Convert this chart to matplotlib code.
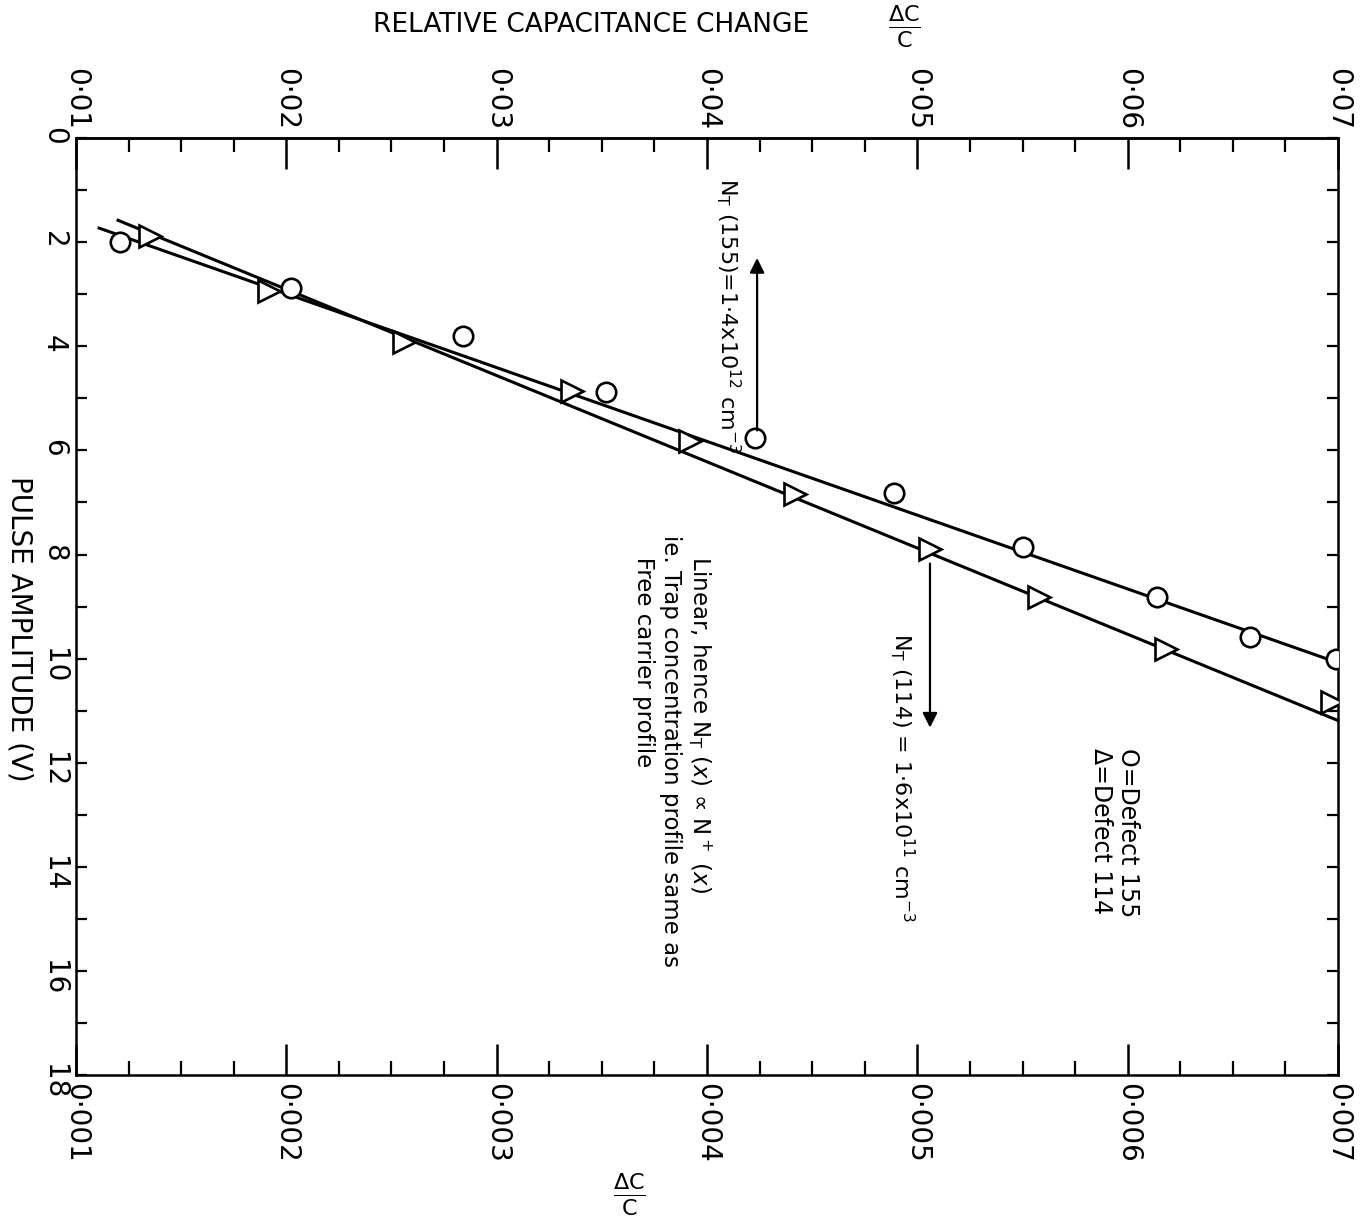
import matplotlib.pyplot as plt
from matplotlib.ticker import FixedLocator, FixedFormatter, MultipleLocator

plt.rcParams['font.family'] = ['DejaVu Sans']
plt.rcParams['mathtext.default'] = 'regular'

#%% data (x = dC/C on the bottom scale, y = pulse amplitude V)
c155_x = [0.00121, 0.00202, 0.00284, 0.00352, 0.00423, 0.00489, 0.00550, 0.00614, 0.00658, 0.00699]
c155_y = [2.00, 2.88, 3.81, 4.87, 5.77, 6.81, 7.85, 8.81, 9.58, 10.00]

t114_x = [0.00135, 0.00192, 0.00256, 0.00336, 0.00392, 0.00442, 0.00506, 0.00558, 0.00618, 0.00697]
t114_y = [1.88, 2.94, 3.92, 4.85, 5.81, 6.83, 7.90, 8.81, 9.81, 10.83]

# straight lines drawn through each set
fit155_x = [0.00111, 0.00700]
fit155_y = [1.73, 10.08]
fit114_x = [0.00120, 0.00700]
fit114_y = [1.58, 11.19]

bottom_ticks = [0.001, 0.002, 0.003, 0.004, 0.005, 0.006, 0.007]
bottom_labels = ['0·001', '0·002', '0·003', '0·004', '0·005', '0·006', '0·007']
top_ticks = [0.01, 0.02, 0.03, 0.04, 0.05, 0.06, 0.07]
top_labels = ['0·01', '0·02', '0·03', '0·04', '0·05', '0·06', '0·07']
y_ticks = [0, 2, 4, 6, 8, 10, 12, 14, 16, 18]

#%% figure
fig = plt.figure(figsize=(13.69, 12.25), dpi=100)
ax = fig.add_axes([0.0555, 0.1224, 0.9219, 0.7649])

ax.plot(fit155_x, fit155_y, color='black', lw=2.2, zorder=2)
ax.plot(fit114_x, fit114_y, color='black', lw=2.2, zorder=2)
ax.plot(c155_x, c155_y, ls='none', marker='o', ms=14, mfc='white', mec='black', mew=1.9, zorder=3)
ax.plot(t114_x, t114_y, ls='none', marker='>', ms=16, mfc='white', mec='black', mew=1.9, zorder=3)

ax.set_xlim(0.001, 0.007)
ax.set_ylim(18, 0)

for s in ax.spines.values():
    s.set_linewidth(1.8)

ax.xaxis.set_major_locator(FixedLocator(bottom_ticks))
ax.xaxis.set_major_formatter(FixedFormatter(bottom_labels))
ax.xaxis.set_minor_locator(MultipleLocator(0.00025))
ax.yaxis.set_major_locator(FixedLocator(y_ticks))
ax.yaxis.set_minor_locator(MultipleLocator(1))

ax.tick_params(axis='x', which='major', direction='in', length=22, width=1.8,
               labelsize=20, labelrotation=-90, pad=6)
ax.tick_params(axis='x', which='minor', direction='in', length=10, width=1.6)
ax.tick_params(axis='y', which='both', direction='in', left=True, right=True,
               length=8, width=1.6, labelsize=20, labelrotation=-90, pad=6)

sec = ax.secondary_xaxis('top', functions=(lambda x: x * 10, lambda x: x / 10))
sec.spines['top'].set_linewidth(1.8)
sec.xaxis.set_major_locator(FixedLocator(top_ticks))
sec.xaxis.set_major_formatter(FixedFormatter(top_labels))
sec.xaxis.set_minor_locator(MultipleLocator(0.0025))
sec.tick_params(axis='x', which='major', direction='in', length=22, width=1.8,
                labelsize=20, labelrotation=-90, pad=6)
sec.tick_params(axis='x', which='minor', direction='in', length=10, width=1.6)

#%% annotations
ax.annotate('', xy=(0.004238, 2.25), xytext=(0.004238, 5.67),
            arrowprops=dict(arrowstyle='-|>', lw=1.6, color='black', mutation_scale=22))
ax.text(0.00410, 3.40, r'N$_T$ (155)=1·4x10$^{12}$ cm$^{-3}$', rotation=-90,
        ha='center', va='center', fontsize=16)

ax.annotate('', xy=(0.00506, 11.38), xytext=(0.00506, 8.12),
            arrowprops=dict(arrowstyle='-|>', lw=1.6, color='black', mutation_scale=22))
ax.text(0.004928, 12.29, r'N$_T$ (114) = 1·6x10$^{11}$ cm$^{-3}$', rotation=-90,
        ha='center', va='center', fontsize=16)

ax.text(0.004029, 7.63,
        '   Linear, hence N$_T$ ($\\mathit{x}$) ∝ N$^+$ ($\\mathit{x}$)\n'
        'ie. Trap concentration profile same as\n'
        '   Free carrier profile',
        rotation=-90, rotation_mode='anchor', ha='left', va='top',
        multialignment='left', fontsize=16.5)

ax.text(0.00606, 11.71, 'O=Defect 155\nΔ=Defect 114', rotation=-90,
        rotation_mode='anchor', ha='left', va='top', multialignment='left', fontsize=17)

#%% axis titles
fig.text(0.432, 0.980, 'RELATIVE CAPACITANCE CHANGE', ha='center', va='center', fontsize=19)
fig.text(0.661, 0.978, r'$\frac{\Delta C}{C}$', ha='center', va='center', fontsize=23)
fig.text(0.0146, 0.487, 'PULSE AMPLITUDE (V)', rotation=-90, ha='center', va='center', fontsize=20)
fig.text(0.460, 0.0245, r'$\frac{\Delta C}{C}$', ha='center', va='center', fontsize=23)

fig.savefig('out.png', dpi=100)
